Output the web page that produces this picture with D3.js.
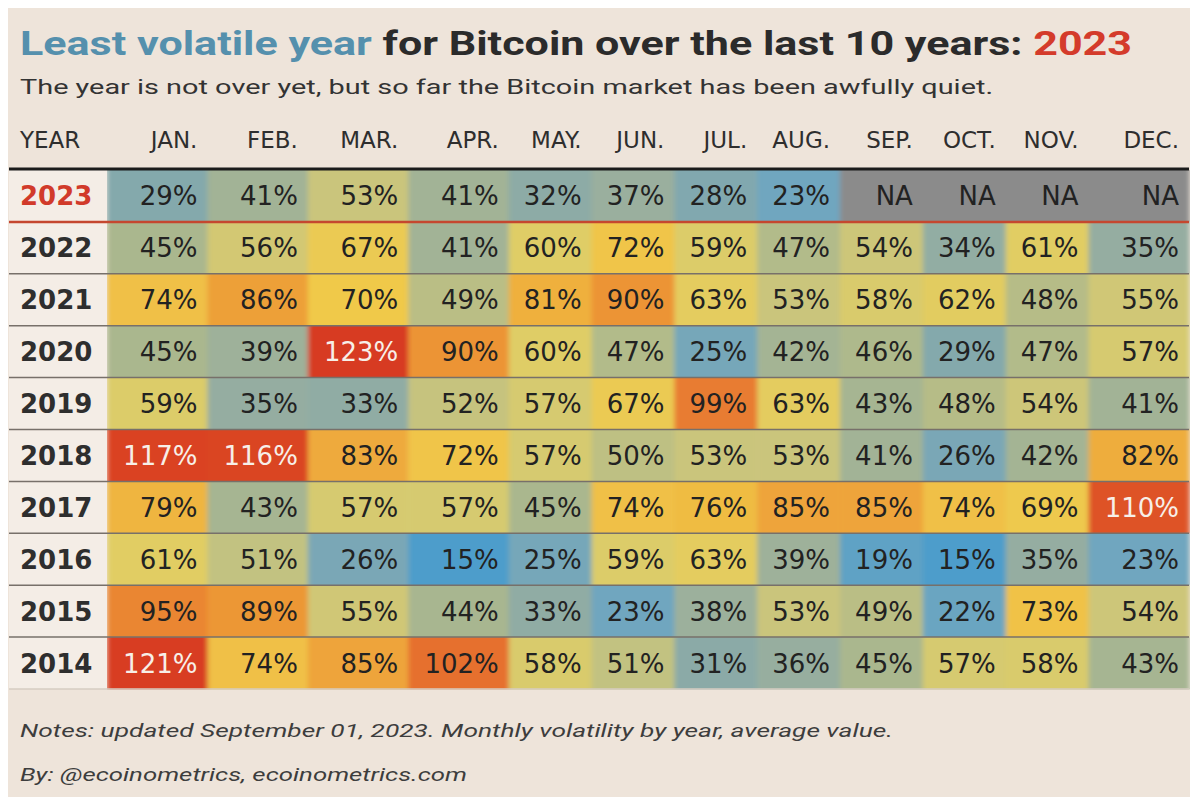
<!DOCTYPE html>
<html>
<head>
<meta charset="utf-8">
<script src="https://cdn.jsdelivr.net/npm/d3@7"></script>
<style>
  body { margin: 0; background: #fff; }
  svg { display: block; font-family: Roboto, "Liberation Sans", sans-serif; }
  text { white-space: pre; }
  .tbl { font-family: "DejaVu Sans", Verdana, sans-serif; }
</style>
</head>
<body>
<svg id="chart"></svg>
<script>
// ---------------------------//
//          DATA              //
// ---------------------------//
const months = ["JAN.", "FEB.", "MAR.", "APR.", "MAY.", "JUN.", "JUL.", "AUG.", "SEP.", "OCT.", "NOV.", "DEC."];
const years = ["2023", "2022", "2021", "2020", "2019", "2018", "2017", "2016", "2015", "2014"];

// monthly volatility (%), null = not available yet
const vol2023 = [29, 41, 53, 41, 32, 37, 28, 23, null, null, null, null];
const vol2022 = [45, 56, 67, 41, 60, 72, 59, 47, 54, 34, 61, 35];
const vol2021 = [74, 86, 70, 49, 81, 90, 63, 53, 58, 62, 48, 55];
const vol2020 = [45, 39, 123, 90, 60, 47, 25, 42, 46, 29, 47, 57];
const vol2019 = [59, 35, 33, 52, 57, 67, 99, 63, 43, 48, 54, 41];
const vol2018 = [117, 116, 83, 72, 57, 50, 53, 53, 41, 26, 42, 82];
const vol2017 = [79, 43, 57, 57, 45, 74, 76, 85, 85, 74, 69, 110];
const vol2016 = [61, 51, 26, 15, 25, 59, 63, 39, 19, 15, 35, 23];
const vol2015 = [95, 89, 55, 44, 33, 23, 38, 53, 49, 22, 73, 54];
const vol2014 = [121, 74, 85, 102, 58, 51, 31, 36, 45, 57, 58, 43];

const volByYear = [vol2023, vol2022, vol2021, vol2020, vol2019, vol2018, vol2017, vol2016, vol2015, vol2014];

// ---------------------------//
//          SETUP             //
// ---------------------------//
const W = 1200, H = 808;
const svg = d3.select("#chart").attr("width", W).attr("height", H);

const fmt = v => v == null ? "NA" : v + "%";

// colour ramp blue -> sage -> yellow -> orange -> red
const color = d3.scaleLinear()
  .domain([15, 23, 30, 38, 45, 53, 60, 70, 80, 90, 100, 112, 122])
  .range(["#4e9dcb", "#6fa6bf", "#88a9a9", "#9cb09c", "#aab78e", "#cac57c", "#dfcd66",
          "#f0c94a", "#efb33f", "#ec9435", "#e8782f", "#dc4a26", "#d73a22"])
  .clamp(true);

// panel background
svg.append("rect")
  .attr("x", 8).attr("y", 8)
  .attr("width", 1182).attr("height", 789)
  .attr("fill", "#eee4da");

// soft horizontal blend between neighbouring cells
const defs = svg.append("defs");
defs.append("filter")
  .attr("id", "soft")
  .attr("x", 0).attr("y", 0).attr("width", 1).attr("height", 1)
  .append("feGaussianBlur")
  .attr("stdDeviation", "2.5 0")
  .attr("edgeMode", "duplicate");

// ---------------------------//
//          TITLES            //
// ---------------------------//
const title = svg.append("text")
  .attr("x", 20).attr("y", 55)
  .attr("font-size", 34).attr("font-weight", 700)
  .attr("textLength", 1112).attr("lengthAdjust", "spacingAndGlyphs");
title.append("tspan").attr("fill", "#5590ad").text("Least volatile year");
title.append("tspan").attr("fill", "#2b2b2b").text(" for Bitcoin over the last 10 years: ");
title.append("tspan").attr("fill", "#d43b2b").text("2023");

svg.append("text")
  .attr("x", 20).attr("y", 94)
  .attr("font-size", 20).attr("fill", "#333")
  .attr("textLength", 973).attr("lengthAdjust", "spacingAndGlyphs")
  .text("The year is not over yet, but so far the Bitcoin market has been awfully quiet.");

// ---------------------------//
//     COLUMN WIDTHS          //
// ---------------------------//
// like a table layout: each column as wide as its widest label
const probe = svg.append("text").attr("class", "tbl").attr("font-size", 26).attr("visibility", "hidden");
const measure = s => probe.text(s).node().getComputedTextLength();
const colUnits = months.map((m, j) => d3.max(volByYear, row => measure(fmt(row[j]))) + 20);
probe.remove();

const cum = [0];
colUnits.forEach(u => cum.push(cum[cum.length - 1] + u));
const gridLeft = 107, gridRight = 1189;
const x = d3.scaleLinear().domain([0, cum[cum.length - 1]]).range([gridLeft, gridRight]);

const y = d3.scaleBand().domain(years).range([170, 689]).padding(0);

// ---------------------------//
//          TABLE             //
// ---------------------------//
// year column background
svg.append("rect")
  .attr("x", 9).attr("y", y.range()[0])
  .attr("width", gridLeft - 9).attr("height", y.range()[1] - y.range()[0])
  .attr("fill", "#f4ede6");

const cells = [];
years.forEach((yr, i) => {
  months.forEach((m, j) => cells.push({ year: yr, j: j, value: volByYear[i][j] }));
});

svg.append("g")
  .attr("filter", "url(#soft)")
  .selectAll("rect")
  .data(cells)
  .join("rect")
  .attr("x", d => x(cum[d.j]))
  .attr("y", d => y(d.year))
  .attr("width", d => x(cum[d.j + 1]) - x(cum[d.j]) + 0.5)
  .attr("height", y.bandwidth() + 0.5)
  .attr("fill", d => d.value == null ? "#8b8b8b" : color(d.value));

svg.append("g")
  .attr("class", "tbl")
  .attr("font-size", 26)
  .attr("text-anchor", "end")
  .selectAll("text")
  .data(cells)
  .join("text")
  .attr("x", d => x(cum[d.j + 1]) - 10)
  .attr("y", d => y(d.year) + y.bandwidth() / 2 + 9.5)
  .attr("fill", d => d.value != null && d.value >= 110 ? "#f7efe8" : "#222")
  .text(d => fmt(d.value));

// header row
svg.append("text")
  .attr("class", "tbl")
  .attr("x", 20).attr("y", 148)
  .attr("font-size", 23).attr("fill", "#2e2e2e")
  .text("YEAR");

svg.append("g")
  .attr("class", "tbl")
  .attr("font-size", 23)
  .attr("fill", "#2e2e2e")
  .attr("text-anchor", "end")
  .selectAll("text")
  .data(months)
  .join("text")
  .attr("x", (m, j) => x(cum[j + 1]) - 10)
  .attr("y", 148)
  .text(m => m);

// year labels
svg.append("g")
  .attr("class", "tbl")
  .attr("font-size", 26)
  .attr("font-weight", 700)
  .selectAll("text")
  .data(years)
  .join("text")
  .attr("x", 20)
  .attr("y", d => y(d) + y.bandwidth() / 2 + 9.5)
  .attr("fill", d => d === "2023" ? "#d13a2a" : "#2e2e2e")
  .text(d => d);

// row rules
svg.append("g")
  .selectAll("line")
  .data(years)
  .join("line")
  .attr("x1", 9).attr("x2", gridRight)
  .attr("y1", d => y(d) + y.bandwidth())
  .attr("y2", d => y(d) + y.bandwidth())
  .attr("stroke", (d, i) => d === "2023" ? "#c5472f" : (i === years.length - 1 ? "#d6ccc2" : "#77706a"))
  .attr("stroke-width", d => d === "2023" ? 2.5 : 1.5);

// header rule
svg.append("line")
  .attr("x1", 9).attr("x2", gridRight)
  .attr("y1", 169).attr("y2", 169)
  .attr("stroke", "#1b1b1b").attr("stroke-width", 3);

// ---------------------------//
//          NOTES             //
// ---------------------------//
svg.append("text")
  .attr("x", 20).attr("y", 737)
  .attr("font-size", 18).attr("font-style", "italic").attr("fill", "#3d3d3d")
  .attr("textLength", 873).attr("lengthAdjust", "spacingAndGlyphs")
  .text("Notes: updated September 01, 2023. Monthly volatility by year, average value.");

svg.append("text")
  .attr("x", 20).attr("y", 781)
  .attr("font-size", 18).attr("font-style", "italic").attr("fill", "#3d3d3d")
  .attr("textLength", 447).attr("lengthAdjust", "spacingAndGlyphs")
  .text("By: @ecoinometrics, ecoinometrics.com");
</script>
</body>
</html>
